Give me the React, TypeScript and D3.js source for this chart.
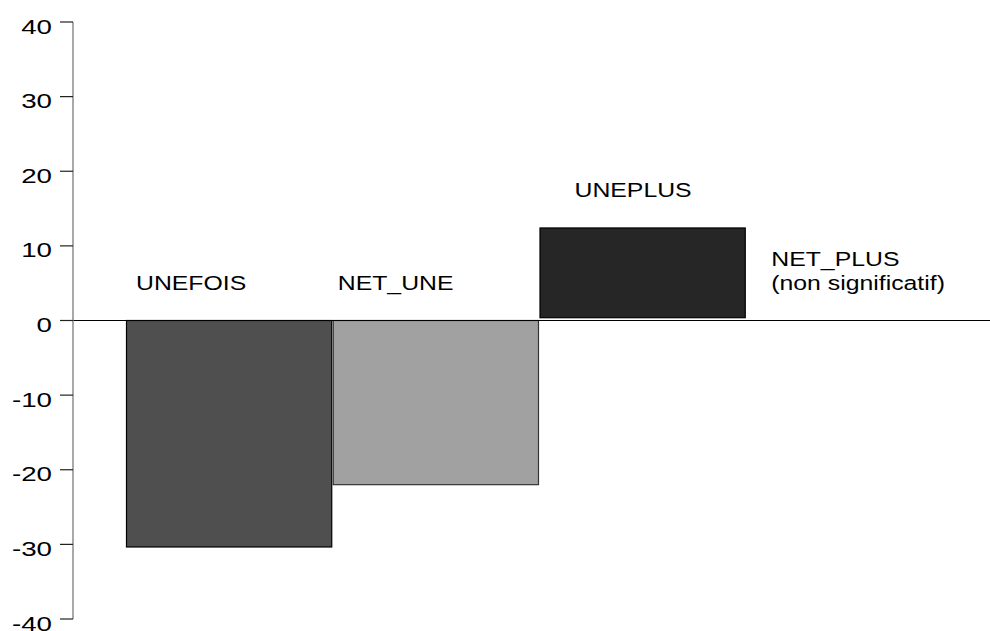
import React from "react";
import * as d3 from "d3";

const categories = ["UNEFOIS", "NET_UNE", "UNEPLUS", "NET_PLUS"];
const values = [-30.35, -22.0, 12.4, 0];
const bases = [0, 0, 0.375, 0];
const fills = ["#4f4f4f", "#a1a1a1", "#262626", "none"];
const strokes = ["#000", "#333", "#000", "none"];
const labelLines = [["UNEFOIS"], ["NET_UNE"], ["UNEPLUS"], ["NET_PLUS", "(non significatif)"]];
const yTicks = [-40, -30, -20, -10, 0, 10, 20, 30, 40];

const W = 990;
const H = 631;
const FONT = "'Liberation Sans', Arial, sans-serif";

export default function App() {
  const y = d3.scaleLinear().domain([-40, 40]).range([619, 22]);
  const x = d3.scaleBand<string>().domain(categories).range([126, 953]).padding(0);
  const axisX = 73;
  const labelDx = [10, 5, 35, 25];

  return (
    <svg width={W} height={H} style={{ position: "absolute", left: 0, top: 0, background: "#fff" }}>
      {categories.map((c, i) => {
        const v = values[i];
        const b = bases[i];
        if (v === 0) return null;
        const x0 = x(c)! + 0.5;
        const w = x.bandwidth() - 1.5;
        const yTop = y(Math.max(v, b));
        const yBot = y(Math.min(v, b));
        return (
          <rect key={c} x={x0} y={yTop} width={w} height={yBot - yTop} fill={fills[i]} stroke={strokes[i]} strokeWidth={1.2} />
        );
      })}
      <line x1={60} x2={990} y1={y(0)} y2={y(0)} stroke="#000" strokeWidth={1.2} />
      <line x1={axisX} x2={axisX} y1={y(40)} y2={y(-40)} stroke="#7a7a7a" strokeWidth={1.3} />
      {yTicks.map((t) => (
        <g key={t}>
          <line x1={60} x2={axisX} y1={y(t)} y2={y(t)} stroke="#222" strokeWidth={1.2} />
          <text
            transform={`translate(52, ${y(t) + 11.5}) scale(1.32,1)`}
            textAnchor="end"
            fontFamily={FONT}
            fontSize={21}
            fill="#000"
          >
            {t}
          </text>
        </g>
      ))}
      {categories.map((c, i) => {
        const lines = labelLines[i];
        const top = values[i] > 0 ? y(values[i]) : y(0);
        const lx = x(c)! + labelDx[i];
        const firstBaseline = top - 31 - (lines.length - 1) * 24;
        return (
          <g key={c}>
            {lines.map((l, j) => (
              <text
                key={j}
                transform={`translate(${lx}, ${firstBaseline + j * 24}) scale(1.21,1)`}
                fontFamily={FONT}
                fontSize={20.5}
                fill="#000"
              >
                {l}
              </text>
            ))}
          </g>
        );
      })}
    </svg>
  );
}
